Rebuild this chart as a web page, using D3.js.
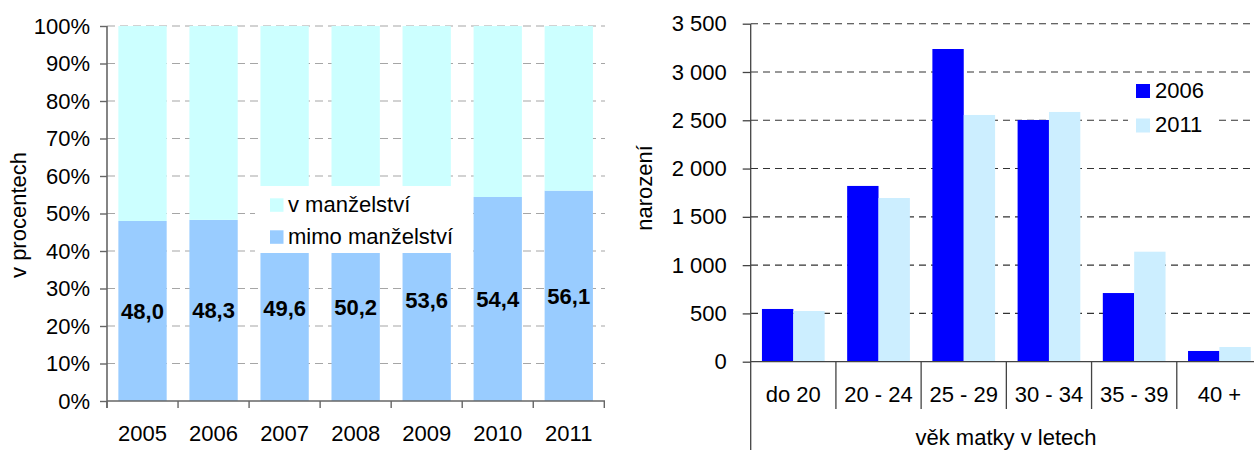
<!DOCTYPE html>
<html><head><meta charset="utf-8">
<script src="https://cdn.jsdelivr.net/npm/d3@7"></script>
<style>
html,body{margin:0;padding:0;background:#fff;}
svg{display:block;font-family:"Liberation Sans",Arial,sans-serif;}
</style></head>
<body><svg id="c" width="1254" height="450"></svg>
<script>
// ---- data: left chart ----
const years = ["2005","2006","2007","2008","2009","2010","2011"];
const outsideMarriage = [48.0, 48.3, 49.6, 50.2, 53.6, 54.4, 56.1];   // mimo manželství
const inMarriage = [52.0, 51.7, 50.4, 49.8, 46.4, 45.6, 43.9];        // v manželství
const pctTicks = [0,10,20,30,40,50,60,70,80,90,100];
const leftLegend = ["v manželství","mimo manželství"];
// ---- data: right chart ----
const ageGroups = ["do 20","20 - 24","25 - 29","30 - 34","35 - 39","40 +"];
const births2006 = [546, 1820, 3238, 2503, 711, 111];
const births2011 = [525, 1695, 2555, 2586, 1139, 152];
const countTicks = [0,500,1000,1500,2000,2500,3000,3500];
const seriesNames = ["2006","2011"];

const svg = d3.select("#c");
const FS = 22;
const loc = d3.formatLocale({decimal:",", thousands:"\u00a0", grouping:[3], currency:["",""]});
const fmtCount = v => loc.format(",")(v).replace(/\u00a0/g," ");
const fmtDec = loc.format(".1f");

// ================= LEFT CHART =================
{
  const x = d3.scaleBand().domain(years).range([107, 604.3]).paddingInner(0.32).paddingOuter(0.16);
  const y = d3.scaleLinear().domain([0,100]).range([401, 26]);
  const g = svg.append("g");
  // gridlines
  g.selectAll("line.grid").data(pctTicks.filter(d=>d>0)).join("line")
    .attr("x1",107).attr("x2",605).attr("y1",d=>y(d)).attr("y2",d=>y(d))
    .attr("stroke","#a6a6a6").attr("stroke-width",1.2).attr("stroke-dasharray","8,5");
  // bars
  g.selectAll("rect.bot").data(years).join("rect")
    .attr("x",d=>x(d)).attr("width",x.bandwidth())
    .attr("y",(d,i)=>y(outsideMarriage[i])).attr("height",(d,i)=>y(0)-y(outsideMarriage[i]))
    .attr("fill","#99ccff");
  g.selectAll("rect.top").data(years).join("rect")
    .attr("x",d=>x(d)).attr("width",x.bandwidth())
    .attr("y",(d,i)=>y(outsideMarriage[i]+inMarriage[i])).attr("height",(d,i)=>y(outsideMarriage[i])-y(outsideMarriage[i]+inMarriage[i]))
    .attr("fill","#ccffff");
  // labels
  g.selectAll("text.lab").data(years).join("text")
    .attr("x",d=>x(d)+x.bandwidth()/2).attr("y",(d,i)=>y(outsideMarriage[i]/2))
    .attr("dy","0.35em").attr("text-anchor","middle").attr("font-weight","bold")
    .attr("font-size",FS).attr("fill","#000").text((d,i)=>fmtDec(outsideMarriage[i]));
  // y axis
  const ya = d3.axisLeft(y).tickValues(pctTicks).tickFormat(d=>d+"%").tickSize(7).tickPadding(10);
  const yg = g.append("g").attr("transform","translate(107,0)").call(ya);
  yg.select(".domain").attr("stroke","#666").attr("stroke-width",1.6).attr("d","M0,26V408");
  yg.selectAll(".tick line").attr("stroke","#666").attr("stroke-width",1.4);
  yg.selectAll("text").attr("font-size",FS).attr("fill","#000").attr("font-family",null);
  yg.attr("font-family",null);
  // x axis
  g.append("line").attr("x1",107).attr("x2",605).attr("y1",401).attr("y2",401).attr("stroke","#666").attr("stroke-width",1.6);
  const bounds = years.map(d=>x(d)-x.step()*x.paddingInner()/2).concat([604.3]);
  g.selectAll("line.xt").data(bounds).join("line")
    .attr("x1",d=>d).attr("x2",d=>d).attr("y1",401).attr("y2",408).attr("stroke","#666").attr("stroke-width",1.4);
  g.selectAll("text.yr").data(years).join("text")
    .attr("x",d=>x(d)+x.bandwidth()/2).attr("y",441).attr("text-anchor","middle")
    .attr("font-size",FS).text(d=>d);
  // y title
  g.append("text").attr("transform","translate(26,215) rotate(-90)").attr("text-anchor","middle")
    .attr("font-size",FS).text("v procentech");
  // legend
  const lg = g.append("g");
  lg.append("rect").attr("x",255).attr("y",186).attr("width",218).attr("height",67).attr("fill","#fff");
  const lcol = ["#ccffff","#99ccff"];
  leftLegend.forEach((t,i)=>{
    lg.append("rect").attr("x",270).attr("y",198.3+i*32).attr("width",13.5).attr("height",13.5).attr("fill",lcol[i]);
    lg.append("text").attr("x",288).attr("y",212+i*32).attr("font-size",FS).text(t);
  });
}

// ================= RIGHT CHART =================
{
  const x0 = d3.scaleBand().domain(ageGroups).range([750.7, 1262]).paddingInner(0.264).paddingOuter(0.132);
  const x1 = d3.scaleBand().domain(seriesNames).range([0, x0.bandwidth()]);
  const y = d3.scaleLinear().domain([0,3500]).range([361.7, 23.7]);
  const g = svg.append("g");
  g.selectAll("line.grid").data(countTicks.filter(d=>d>0)).join("line")
    .attr("x1",751).attr("x2",1254).attr("y1",d=>y(d)).attr("y2",d=>y(d))
    .attr("stroke","#333").attr("stroke-width",1.1).attr("stroke-dasharray","7,5");
  const cols = ["#0000ff","#cceeff"];
  const series = [births2006, births2011];
  series.forEach((vals,si)=>{
    g.selectAll("rect.s"+si).data(ageGroups).join("rect")
      .attr("x",d=>x0(d)+x1(seriesNames[si])).attr("width",x1.bandwidth())
      .attr("y",(d,i)=>y(vals[i])).attr("height",(d,i)=>y(0)-y(vals[i]))
      .attr("fill",cols[si]);
  });
  // y axis
  const ya = d3.axisLeft(y).tickValues(countTicks).tickFormat(fmtCount).tickSize(8).tickPadding(16);
  const yg = g.append("g").attr("transform","translate(750.7,0)").call(ya);
  yg.attr("font-family",null);
  yg.select(".domain").attr("stroke","#444").attr("stroke-width",1.3).attr("d","M0,23.7V450");
  yg.selectAll(".tick line").attr("stroke","#444").attr("stroke-width",1.3);
  yg.selectAll("text").attr("font-size",FS).attr("fill","#000");
  // x axis
  g.append("line").attr("x1",750.7).attr("x2",1254).attr("y1",361.7).attr("y2",361.7).attr("stroke","#444").attr("stroke-width",1.3);
  const seps = ageGroups.slice(1).map(d=>x0(d)-x0.step()*x0.paddingInner()/2);
  g.selectAll("line.sep").data(seps).join("line")
    .attr("x1",d=>d).attr("x2",d=>d).attr("y1",361.7).attr("y2",409).attr("stroke","#444").attr("stroke-width",1.3);
  g.selectAll("text.cat").data(ageGroups).join("text")
    .attr("x",d=>x0(d)+x0.bandwidth()/2).attr("y",402).attr("text-anchor","middle")
    .attr("font-size",FS).text(d=>d);
  g.append("text").attr("x",1006).attr("y",445).attr("text-anchor","middle").attr("font-size",FS).text("věk matky v letech");
  g.append("text").attr("transform","translate(652,188) rotate(-90)").attr("text-anchor","middle")
    .attr("font-size",FS).text("narození");
  // legend
  const lg = g.append("g");
  lg.append("rect").attr("x",1128).attr("y",78).attr("width",86).attr("height",62).attr("fill","#fff");
  seriesNames.forEach((t,i)=>{
    lg.append("rect").attr("x",1136).attr("y",84+i*34.5).attr("width",14).attr("height",14).attr("fill",cols[i]);
    lg.append("text").attr("x",1155).attr("y",97.5+i*34.5).attr("font-size",FS).text(t);
  });
}
</script></body></html>
